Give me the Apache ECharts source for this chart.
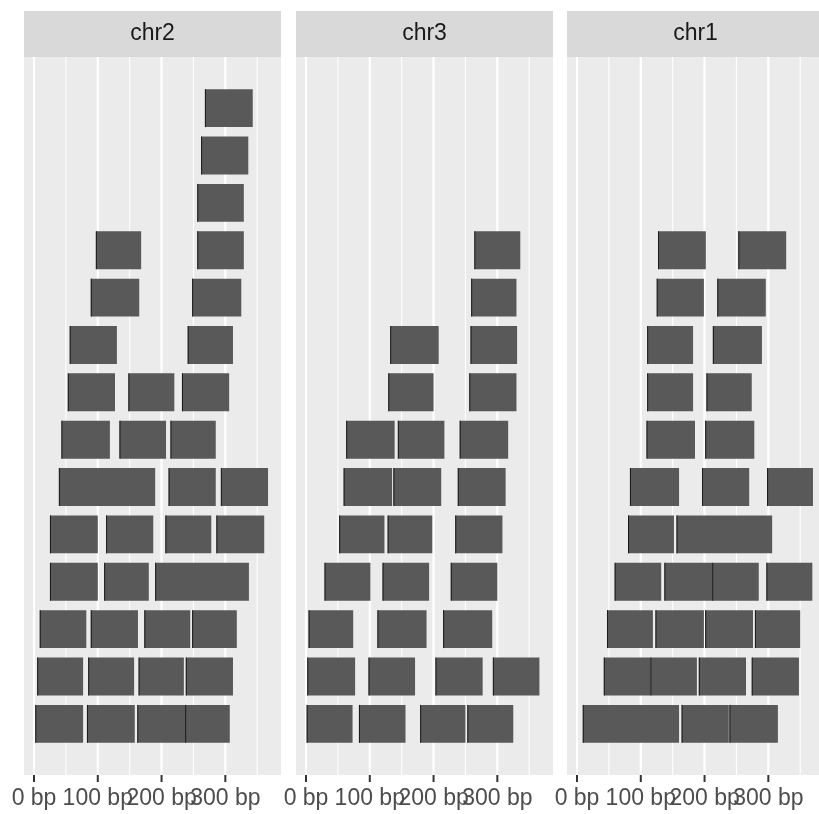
<!DOCTYPE html>
<html>
<head>
<meta charset="utf-8">
<script src="https://cdn.jsdelivr.net/npm/echarts@6/dist/echarts.min.js"></script>
<style>
  html, body { margin: 0; padding: 0; background: #fff; }
  #main { width: 819px; height: 814px; }
</style>
</head>
<body>
<div id="main"></div>
<script>
// facet order as in the plot
const facets = ['chr2', 'chr3', 'chr1'];
const xTicks = [0, 100, 200, 300];
const xTickLabels = ['0 bp', '100 bp', '200 bp', '300 bp'];
const xGridValues = [0, 50, 100, 150, 200, 250, 300, 350];

// [start, end, stacking level]
const chr2 = [
  [268, 343, 14],
  [262, 336, 13],
  [256, 329, 12],
  [97, 168, 11], [256, 329, 11],
  [89, 165, 10], [248, 325, 10],
  [56, 130, 9], [241, 312, 9],
  [53, 127, 8], [148, 220, 8], [232, 306, 8],
  [43, 119, 7], [134, 207, 7], [214, 285, 7],
  [39, 190, 6], [211, 285, 6], [293, 367, 6],
  [25, 100, 5], [113, 187, 5], [206, 278, 5], [286, 361, 5],
  [25, 100, 4], [110, 180, 4], [190, 337, 4],
  [9, 82, 3], [89, 163, 3], [173, 245, 3], [248, 318, 3],
  [5, 77, 2], [85, 157, 2], [164, 235, 2], [238, 312, 2],
  [2, 77, 1], [83, 158, 1], [162, 237, 1], [237, 307, 1]
];
const chr3 = [
  [264, 336, 11],
  [259, 330, 10],
  [132, 208, 9], [258, 331, 9],
  [129, 200, 8], [256, 330, 8],
  [63, 139, 7], [144, 217, 7], [241, 317, 7],
  [59, 135, 6], [137, 212, 6], [238, 313, 6],
  [52, 123, 5], [128, 198, 5], [234, 308, 5],
  [29, 101, 4], [120, 193, 4], [227, 300, 4],
  [4, 74, 3], [112, 189, 3], [215, 292, 3],
  [2, 77, 2], [98, 171, 2], [203, 277, 2], [293, 366, 2],
  [1, 73, 1], [83, 156, 1], [179, 250, 1], [253, 325, 1]
];
const chr1 = [
  [127, 202, 11], [253, 328, 11],
  [125, 199, 10], [220, 296, 10],
  [110, 182, 9], [213, 290, 9],
  [110, 182, 8], [203, 274, 8],
  [109, 185, 7], [201, 278, 7],
  [83, 160, 6], [196, 270, 6], [298, 370, 6],
  [80, 152, 5], [156, 306, 5],
  [59, 132, 4], [137, 212, 4], [212, 285, 4], [297, 369, 4],
  [47, 119, 3], [123, 199, 3], [201, 276, 3], [279, 350, 3],
  [42, 115, 2], [115, 188, 2], [191, 265, 2], [274, 348, 2],
  [9, 160, 1], [164, 238, 1], [239, 315, 1]
];
const facetData = [chr2, chr3, chr1];

const chart = echarts.init(document.getElementById('main'));

const panelLeft = [24, 296, 567];
const panelWidth = 257;
const panelTop = 57;
const panelHeight = 718;
const stripTop = 11;
const stripHeight = 46;
const font = '"Liberation Sans", Arial, Helvetica, sans-serif';

const grids = [], xAxes = [], yAxes = [], series = [], graphics = [];

facets.forEach(function (name, i) {
  grids.push({
    left: panelLeft[i], top: panelTop, width: panelWidth, height: panelHeight,
    outerBoundsMode: 'none', containLabel: false,
    show: true, backgroundColor: '#EBEBEB', borderWidth: 0
  });
  xAxes.push({
    gridIndex: i, type: 'value', min: -15.7, max: 387.3,
    splitLine: { show: false },
    axisLine: { show: false },
    axisTick: { show: false },
    axisLabel: { show: false }
  });
  yAxes.push({ gridIndex: i, type: 'value', min: -0.08, max: 15.08, show: false });

  // panel grid lines (major + minor)
  series.push({
    type: 'custom', xAxisIndex: i, yAxisIndex: i, z: 1, silent: true,
    data: xGridValues.map(function (v) { return [v]; }),
    renderItem: function (params, api) {
      const v = api.value(0);
      const x = api.coord([v, 0])[0];
      const cs = params.coordSys;
      return {
        type: 'line',
        shape: { x1: x, y1: cs.y, x2: x, y2: cs.y + cs.height },
        style: { stroke: '#FFFFFF', lineWidth: v % 100 === 0 ? 2.2 : 1.1 }
      };
    }
  });

  // x axis ticks and labels (every label kept, they overlap as in the original)
  series.push({
    type: 'custom', xAxisIndex: i, yAxisIndex: i, z: 2, silent: true, clip: false,
    data: xTicks.map(function (v, k) { return [v, k]; }),
    renderItem: function (params, api) {
      const x = api.coord([api.value(0), 0])[0];
      const cs = params.coordSys;
      const yb = cs.y + cs.height;
      return {
        type: 'group',
        children: [
          { type: 'line', shape: { x1: x, y1: yb, x2: x, y2: yb + 7 },
            style: { stroke: '#333333', lineWidth: 2 } },
          { type: 'text', x: x, y: yb + 12,
            style: { text: xTickLabels[api.value(1)], fill: '#4D4D4D', font: '23px ' + font,
              align: 'center', verticalAlign: 'top' } }
        ]
      };
    }
  });

  // the intervals
  series.push({
    type: 'custom', xAxisIndex: i, yAxisIndex: i, z: 3,
    encode: { x: [0, 1], y: 2 },
    data: facetData[i],
    renderItem: function (params, api) {
      const p0 = api.coord([api.value(0), api.value(2) + 0.4]);
      const p1 = api.coord([api.value(1), api.value(2) - 0.4]);
      return {
        type: 'group',
        children: [
          { type: 'rect', shape: { x: p0[0], y: p0[1], width: p1[0] - p0[0], height: p1[1] - p0[1] },
            style: { fill: '#595959' } },
          { type: 'line', shape: { x1: p0[0] + 0.5, y1: p0[1], x2: p0[0] + 0.5, y2: p1[1] },
            style: { stroke: '#1A1A1A', lineWidth: 1 } }
        ]
      };
    }
  });

  // facet strip
  graphics.push({
    type: 'rect', left: panelLeft[i], top: stripTop,
    shape: { width: panelWidth, height: stripHeight },
    style: { fill: '#D9D9D9' }
  });
  graphics.push({
    type: 'text', x: panelLeft[i] + panelWidth / 2, y: stripTop + stripHeight / 2,
    style: { text: name, fill: '#1A1A1A', font: '23px ' + font, align: 'center', verticalAlign: 'middle' }
  });
});

chart.setOption({
  animation: false,
  backgroundColor: '#FFFFFF',
  grid: grids,
  xAxis: xAxes,
  yAxis: yAxes,
  series: series,
  graphic: graphics
});
</script>
</body>
</html>
